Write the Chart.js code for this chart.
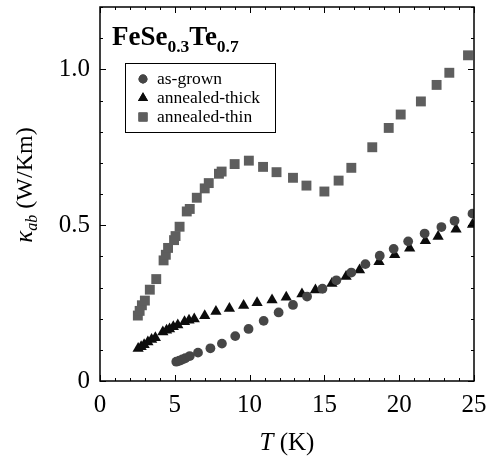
<!DOCTYPE html>
<html>
<head>
<meta charset="utf-8">
<script src="https://cdn.jsdelivr.net/npm/chart.js@4.4.0/dist/chart.umd.min.js"></script>
<style>
  html, body { margin: 0; padding: 0; background: #fff; }
  #wrap { width: 491px; height: 457px; }
</style>
</head>
<body>
<div id="wrap"><canvas id="myChart" width="491" height="457"></canvas></div>
<script>
// Datos: T en K, kappa_ab en W/Km
var asGrownT = [5.1, 5.3, 5.5, 5.7, 6.0, 6.55, 7.38, 8.15, 9.04, 9.93, 10.94, 11.94, 12.9, 13.84, 14.87, 15.8, 16.8, 17.74, 18.7, 19.63, 20.6, 21.7, 22.82, 23.7, 24.9];
var asGrownK = [0.062, 0.065, 0.069, 0.073, 0.080, 0.091, 0.105, 0.120, 0.144, 0.167, 0.193, 0.220, 0.244, 0.271, 0.296, 0.323, 0.348, 0.375, 0.402, 0.424, 0.448, 0.473, 0.494, 0.514, 0.537];

var thickT = [2.55, 2.75, 2.95, 3.2, 3.45, 3.7, 4.2, 4.45, 4.65, 4.9, 5.2, 5.65, 5.95, 6.3, 7.0, 7.75, 8.65, 9.6, 10.5, 11.5, 12.45, 13.5, 14.4, 15.5, 16.45, 17.35, 18.65, 19.7, 20.7, 21.75, 22.6, 23.8, 24.9];
var thickK = [0.104, 0.110, 0.116, 0.125, 0.133, 0.139, 0.157, 0.163, 0.167, 0.174, 0.180, 0.190, 0.195, 0.199, 0.209, 0.223, 0.233, 0.242, 0.251, 0.260, 0.269, 0.279, 0.292, 0.313, 0.335, 0.356, 0.383, 0.405, 0.426, 0.450, 0.464, 0.487, 0.502];

var thinT = [2.53, 2.65, 2.8, 3.0, 3.33, 3.76, 4.25, 4.4, 4.55, 4.95, 5.05, 5.32, 5.8, 6.0, 6.47, 7.0, 7.27, 7.95, 8.13, 9.0, 9.95, 10.9, 11.8, 12.9, 13.8, 15.0, 15.95, 16.8, 18.2, 19.3, 20.1, 21.45, 22.5, 23.35, 24.6];
var thinK = [0.210, 0.225, 0.243, 0.258, 0.293, 0.327, 0.387, 0.405, 0.427, 0.452, 0.465, 0.495, 0.544, 0.552, 0.588, 0.618, 0.635, 0.665, 0.672, 0.696, 0.707, 0.687, 0.670, 0.652, 0.627, 0.608, 0.643, 0.684, 0.750, 0.812, 0.855, 0.897, 0.950, 0.989, 1.045];

var seriesNames = ["as-grown", "annealed-thick", "annealed-thin"];
var xTickLabels = ["0", "5", "10", "15", "20", "25"];
var yTickLabels = ["0", "0.5", "1.0"];

var FUENTE = '"Liberation Serif", "Times New Roman", serif';

function puntos(xs, ys){
    var out = [];
    for (var i = 0; i < xs.length; i++) {
        out.push({x: xs[i], y: ys[i]});
    }
    return out;
}

var estilos = [
    {pointStyle: 'circle', radius: 4.9, color: '#464646'},
    {pointStyle: 'triangle', radius: 6.5, color: '#0c0c0c'},
    {pointStyle: 'rect', radius: 7.0, color: '#5e5e5e'}
];

var datos = [puntos(asGrownT, asGrownK), puntos(thickT, thickK), puntos(thinT, thinK)];

var datasets = seriesNames.map(function(nombre, i){
    return {
        label: nombre,
        data: datos[i],
        showLine: false,
        pointStyle: estilos[i].pointStyle,
        pointRadius: estilos[i].radius,
        pointBackgroundColor: estilos[i].color,
        pointBorderWidth: 0,
        order: i
    };
});

// Marco, ticks hacia adentro, titulos y leyenda
var marcoPlugin = {
    id: 'marco',
    afterDraw: function(chart){
        var ctx = chart.ctx;
        var a = chart.chartArea;
        var xs = chart.scales.x, ys = chart.scales.y;
        ctx.save();
        ctx.strokeStyle = '#000';
        ctx.lineWidth = 1.5;
        ctx.strokeRect(a.left, a.top, a.right - a.left, a.bottom - a.top);

        ctx.lineWidth = 1;
        ctx.beginPath();
        xs.ticks.forEach(function(t){
            var px = Math.round(xs.getPixelForValue(t.value)) + 0.5;
            var len = (Math.round(t.value) % 5 === 0) ? 6 : 3;
            ctx.moveTo(px, a.bottom); ctx.lineTo(px, a.bottom - len);
            ctx.moveTo(px, a.top); ctx.lineTo(px, a.top + len);
        });
        ys.ticks.forEach(function(t){
            var py = Math.round(ys.getPixelForValue(t.value)) + 0.5;
            var len = (Math.round(t.value * 10) % 5 === 0) ? 6 : 3;
            ctx.moveTo(a.left, py); ctx.lineTo(a.left + len, py);
            ctx.moveTo(a.right, py); ctx.lineTo(a.right - len, py);
        });
        ctx.stroke();

        ctx.fillStyle = '#000';
        ctx.textBaseline = 'alphabetic';

        // Titulo FeSe0.3Te0.7
        var partes = [
            {t: 'FeSe', s: 27, dy: 0},
            {t: '0.3', s: 17.5, dy: 7},
            {t: 'Te', s: 27, dy: 0},
            {t: '0.7', s: 17.5, dy: 7}
        ];
        var x = a.left + 12;
        partes.forEach(function(p){
            ctx.font = 'bold ' + p.s + 'px ' + FUENTE;
            ctx.fillText(p.t, x, 45 + p.dy);
            x += ctx.measureText(p.t).width;
        });

        // Titulo eje X: T (K)
        ctx.font = 'italic 25px ' + FUENTE;
        var wT = ctx.measureText('T').width;
        ctx.font = '25px ' + FUENTE;
        var wK = ctx.measureText(' (K)').width;
        var cx = (a.left + a.right) / 2;
        var x0 = cx - (wT + wK) / 2;
        ctx.font = 'italic 25px ' + FUENTE;
        ctx.fillText('T', x0, 450);
        ctx.font = '25px ' + FUENTE;
        ctx.fillText(' (K)', x0 + wT, 450);

        // Titulo eje Y: kappa_ab (W/Km)
        ctx.save();
        ctx.translate(32, 185);
        ctx.rotate(-Math.PI / 2);
        var py = [
            {t: '\u03BA', f: 'italic 25px ', dy: 0},
            {t: 'ab', f: 'italic 16px ', dy: 5},
            {t: ' (W/Km)', f: '24px ', dy: 0}
        ];
        var total = 0;
        py.forEach(function(p){ ctx.font = p.f + FUENTE; p.w = ctx.measureText(p.t).width; total += p.w; });
        var xx = -total / 2;
        py.forEach(function(p){
            ctx.font = p.f + FUENTE;
            ctx.fillText(p.t, xx, p.dy);
            xx += p.w;
        });
        ctx.restore();

        // Leyenda
        ctx.lineWidth = 1;
        ctx.strokeRect(125.5, 63.5, 150, 69);
        ctx.font = '17.5px ' + FUENTE;
        ctx.textBaseline = 'middle';
        var filas = [79, 98, 117];
        seriesNames.forEach(function(nombre, i){
            Chart.helpers.drawPoint(ctx, {
                pointStyle: estilos[i].pointStyle,
                radius: estilos[i].radius * 0.9,
                rotation: 0,
                borderWidth: 0
            }, 143, filas[i]);
            ctx.fillStyle = estilos[i].color;
            ctx.fill();
            ctx.fillStyle = '#000';
            ctx.fillText(nombre, 157, filas[i]);
        });
        ctx.restore();
    }
};

var ctx = document.getElementById("myChart");
var grafica = new Chart(ctx, {
    type: 'scatter',
    data: { datasets: datasets },
    options: {
        responsive: false,
        animation: false,
        layout: { padding: { top: 7, right: 17, left: 0, bottom: 0 } },
        plugins: {
            legend: { display: false },
            tooltip: { enabled: false }
        },
        scales: {
            x: {
                type: 'linear',
                min: 0, max: 25,
                grid: { display: false, drawTicks: false },
                border: { display: false },
                afterFit: function(s){
                    s.height = 76;
                    s.paddingLeft = 0; s.paddingRight = 0;
                },
                ticks: {
                    stepSize: 1,
                    autoSkip: false,
                    maxRotation: 0,
                    padding: 9,
                    color: '#000',
                    font: { family: FUENTE, size: 25 },
                    callback: function(v){
                        var i = xTickLabels.indexOf(String(Math.round(v)));
                        return (Math.round(v) % 5 === 0 && i >= 0) ? xTickLabels[i] : '';
                    }
                }
            },
            y: {
                type: 'linear',
                min: 0, max: 1.2,
                grid: { display: false, drawTicks: false },
                border: { display: false },
                afterFit: function(s){
                    s.width = 100;
                    s.paddingTop = 0; s.paddingBottom = 0;
                },
                ticks: {
                    stepSize: 0.1,
                    autoSkip: false,
                    padding: 10,
                    color: '#000',
                    font: { family: FUENTE, size: 25 },
                    callback: function(v){
                        var n = Math.round(v * 10);
                        if (n % 5 !== 0) return '';
                        return yTickLabels[n / 5];
                    }
                }
            }
        }
    },
    plugins: [marcoPlugin]
});
</script>
</body>
</html>
